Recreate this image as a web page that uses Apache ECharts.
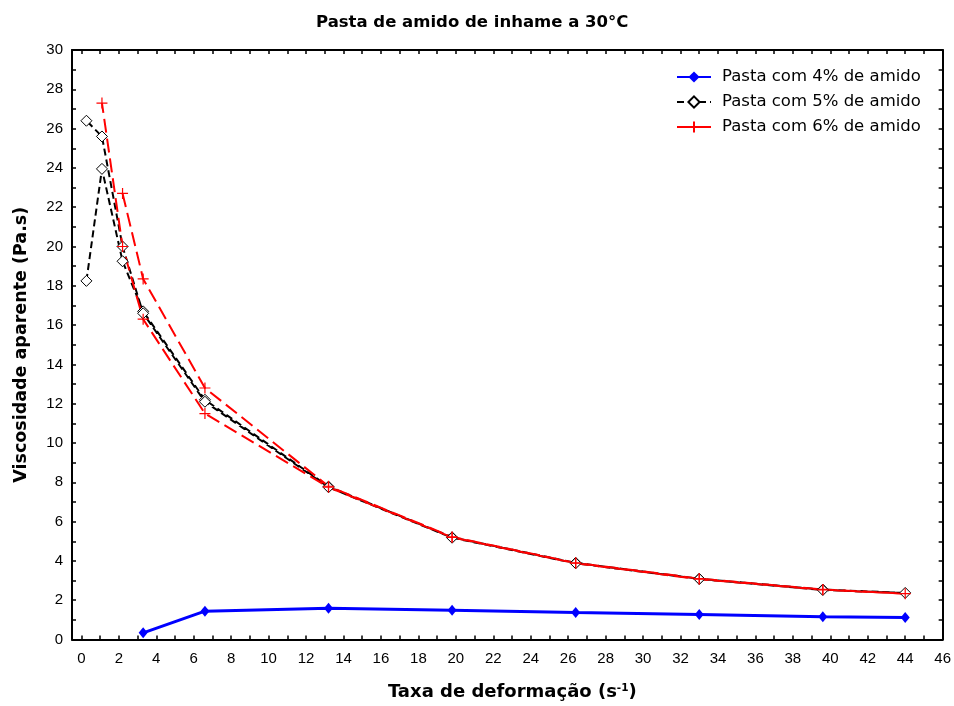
<!DOCTYPE html>
<html>
<head>
<meta charset="utf-8">
<script src="https://cdn.jsdelivr.net/npm/echarts@6/dist/echarts.min.js"></script>
<style>html,body{margin:0;padding:0;background:#fff}#c{width:954px;height:706px}</style>
</head>
<body>
<div id="c"></div>
<script>
// ---- data ----
var titleText = 'Pasta de amido de inhame a 30°C';
var seriesNames = ['Pasta com 4% de amido', 'Pasta com 5% de amido', 'Pasta com 6% de amido'];
var xTickLabels = [0,2,4,6,8,10,12,14,16,18,20,22,24,26,28,30,32,34,36,38,40,42,44,46];
var yTickLabels = [0,2,4,6,8,10,12,14,16,18,20,22,24,26,28,30];

var x4 = [3.3, 6.6, 13.2, 19.8, 26.4, 33.0, 39.6, 44.0];
var y4 = [0.34, 1.44, 1.59, 1.49, 1.37, 1.27, 1.16, 1.12];

var x5 = [0.27, 1.1, 2.2, 3.3, 6.6, 13.2, 19.8, 26.4, 33.0, 39.6, 44.0, 39.6, 33.0, 26.4, 19.8, 13.2, 6.6, 3.3, 2.2, 1.1, 0.27];
var y5 = [18.25, 23.95, 19.25, 16.7, 12.2, 7.78, 5.2, 3.9, 3.09, 2.54, 2.37, 2.52, 3.08, 3.88, 5.18, 7.75, 12.1, 16.6, 20.0, 25.6, 26.4];

var x6 = [2.2, 3.3, 6.6, 13.2, 19.8, 26.4, 33.0, 39.6, 44.0, 39.6, 33.0, 26.4, 19.8, 13.2, 6.6, 3.3, 2.2, 1.1];
var y6 = [22.7, 18.35, 12.8, 7.8, 5.22, 3.9, 3.1, 2.55, 2.33, 2.53, 3.07, 3.88, 5.2, 7.75, 11.5, 16.3, 20.0, 27.3];

// ---- build ----
function pairs(xs, ys){ return xs.map(function(x,i){ return [x, ys[i]]; }); }
function range(a,b){ var r=[]; for(var i=a;i<=b;i++) r.push(i); return r; }
var FONT = '"Liberation Sans", Arial, sans-serif';
var WFONT = '"DejaVu Sans", sans-serif';

var chart = echarts.init(document.getElementById('c'), null, {renderer:'canvas'});
var tickStyle = {show:true, inside:true, length:4, lineStyle:{color:'#000', width:1.5}};
var option = {
  animation: false,
  backgroundColor: '#fff',
  title: {
    text: titleText, left: 311, top: 9,
    textStyle: {fontFamily: WFONT, fontSize: 16.5, fontWeight: 'bold', color: '#000'}
  },
  legend: {
    orient: 'vertical', left: 676, top: 68, padding: 0, itemWidth: 34, itemHeight: 14, itemGap: 7,
    textStyle: {fontFamily: WFONT, fontSize: 16.5, color: '#000', padding: [0,0,0,6], lineHeight: 18},
    data: seriesNames
  },
  grid: {left: 72, right: 10, top: 50, bottom: 66, containLabel: false},
  xAxis: [{
    type: 'value', position: 'bottom', min: -0.5, max: 46,
    axisLine: {show:true, onZero:false, lineStyle:{color:'#000', width:2}},
    axisTick: Object.assign({customValues: range(0,46)}, tickStyle),
    axisLabel: {customValues: xTickLabels, fontFamily: FONT, fontSize: 15, color:'#000', margin: 12},
    splitLine: {show:false},
    name: '{b|Taxa de deformação (s}{sup|-1}{b|)}',
    nameLocation: 'middle', nameGap: 43,
    nameTextStyle: {padding: [0,0,0,10], rich: {
      b: {fontFamily: WFONT, fontSize: 18, fontWeight: 'bold', color: '#000'},
      sup: {fontFamily: WFONT, fontSize: 10.5, fontWeight: 'bold', color: '#000', verticalAlign: 'bottom', padding:[0,0,8,0]}
    }}
  },{
    type: 'value', position: 'top', min: -0.5, max: 46,
    axisLine: {show:true, onZero:false, lineStyle:{color:'#000', width:2}},
    axisTick: Object.assign({customValues: range(0,46)}, tickStyle),
    axisLabel: {show:false}, splitLine: {show:false}
  }],
  yAxis: [{
    type: 'value', position: 'left', min: 0, max: 30,
    axisLine: {show:true, onZero:false, lineStyle:{color:'#000', width:2}},
    axisTick: Object.assign({customValues: range(0,30)}, tickStyle),
    axisLabel: {customValues: yTickLabels, fontFamily: FONT, fontSize: 15, color:'#000', margin: 9},
    splitLine: {show:false},
    name: 'Viscosidade aparente (Pa.s)', nameLocation: 'middle', nameGap: 42,
    nameTextStyle: {fontFamily: WFONT, fontSize: 17.5, fontWeight: 'bold', color: '#000'}
  },{
    type: 'value', position: 'right', min: 0, max: 30,
    axisLine: {show:true, onZero:false, lineStyle:{color:'#000', width:2}},
    axisTick: Object.assign({customValues: range(0,30)}, tickStyle),
    axisLabel: {show:false}, splitLine: {show:false}
  }],
  series: [{
    name: seriesNames[0], type: 'line', xAxisIndex: 0, yAxisIndex: 0,
    data: pairs(x4, y4),
    symbol: 'diamond', symbolSize: [9, 11],
    lineStyle: {color: '#0000ff', width: 3},
    itemStyle: {color: '#0000ff'}
  },{
    name: seriesNames[1], type: 'line', xAxisIndex: 0, yAxisIndex: 0,
    data: pairs(x5, y5),
    symbol: 'diamond', symbolSize: 11,
    lineStyle: {color: '#000', width: 2, type: [7, 4]},
    itemStyle: {color: '#fff', borderColor: '#000', borderWidth: 1}
  },{
    name: seriesNames[2], type: 'line', xAxisIndex: 0, yAxisIndex: 0,
    data: pairs(x6, y6),
    symbol: 'path://M0,5L10,5M5,0L5,10', symbolSize: 11,
    lineStyle: {color: '#ff0000', width: 2, type: [14, 6]},
    itemStyle: {color: 'rgba(0,0,0,0)', borderColor: '#ff0000', borderWidth: 1.2}
  }]
};
chart.setOption(option);
</script>
</body>
</html>
